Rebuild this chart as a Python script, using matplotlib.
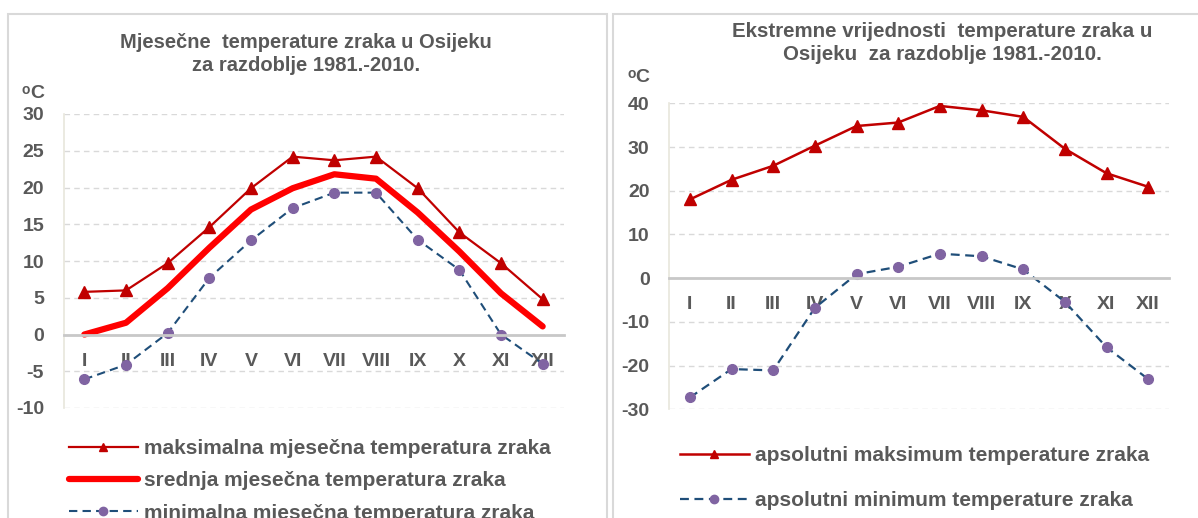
import matplotlib
matplotlib.use("Agg")
import matplotlib.pyplot as plt
from matplotlib.patches import Rectangle

plt.rcParams['font.family'] = ['Liberation Sans', 'DejaVu Sans']
plt.rcParams['axes.unicode_minus'] = False

months = ["I", "II", "III", "IV", "V", "VI", "VII", "VIII", "IX", "X", "XI", "XII"]

# monthly values, Osijek 1981-2010
max_monthly = [5.8, 6.0, 9.7, 14.6, 19.9, 24.2, 23.7, 24.2, 19.9, 13.9, 9.7, 4.8]
mean_monthly = [0.0, 1.6, 6.3, 11.8, 17.0, 19.9, 21.8, 21.2, 16.6, 11.3, 5.6, 1.1]
min_monthly = [-6.1, -4.1, 0.2, 7.7, 12.8, 17.2, 19.3, 19.3, 12.9, 8.8, 0.0, -4.0]

# absolute extremes
abs_max = [18.0, 22.5, 25.7, 30.3, 34.8, 35.6, 39.4, 38.4, 36.9, 29.6, 24.0, 20.9]
abs_min = [-27.3, -20.8, -21.1, -6.8, 0.9, 2.6, 5.6, 5.0, 2.0, -5.4, -15.8, -23.1]

GREY = "#595959"
DARKRED = "#c00000"
RED = "#ff0000"
BLUE = "#1f4e79"
PURPLE = "#8064a2"

W, H = 1198, 518
fig = plt.figure(figsize=(W / 100, H / 100), dpi=100)


def px(x, y):
    # pixel position (from top-left) -> figure fraction
    return x / W, 1 - y / H


# panel frames
for x0, x1 in [(8, 607), (613, 1210)]:
    fig.patches.append(Rectangle((x0 / W, -0.05), (x1 - x0) / W, 1 - 14 / H + 0.05,
                                 transform=fig.transFigure, fill=False,
                                 edgecolor="#d9d9d9", linewidth=1.5))


def style_axes(ax, ylim, step):
    ax.set_xlim(-0.5, len(months) - 0.5)
    ax.set_ylim(*ylim)
    ax.set_yticks(range(ylim[0], ylim[1] + 1, step))
    ax.set_xticks(range(len(months)))
    ax.set_xticklabels(months)
    for spine in ["top", "right"]:
        ax.spines[spine].set_visible(False)
    ax.spines["left"].set_color("#e8e6dc")
    ax.spines["left"].set_linewidth(1.2)
    ax.spines["bottom"].set_position(("data", 0))
    ax.spines["bottom"].set_color("#c8c8c8")
    ax.spines["bottom"].set_linewidth(2)
    ax.tick_params(axis="both", length=0, labelcolor=GREY, labelsize=14)
    ax.tick_params(axis="x", pad=13)
    ax.tick_params(axis="y", pad=14)
    for lab in ax.get_xticklabels() + ax.get_yticklabels():
        lab.set_fontweight("bold")
    ax.grid(axis="y", color="#d9d9d9", linestyle=(0, (4, 3)), linewidth=1)
    ax.set_axisbelow(True)
    ax.patch.set_alpha(0)


def degree_label(x, y):
    fig.text(*px(x, y - 4), "o", ha="left", va="center", fontsize=10,
             fontweight="bold", color=GREY)
    fig.text(*px(x + 8, y), "C", ha="left", va="center", fontsize=14,
             fontweight="bold", color=GREY)


def style_legend(leg):
    for t in leg.get_texts():
        t.set_color(GREY)
        t.set_fontweight("bold")
    for h in leg.legend_handles:
        h.set_markersize(6)


x = range(len(months))

# left panel: monthly temperatures
l, b = px(63.5, 408)
ax1 = fig.add_axes([l, b, 500 / W, 294 / H])
style_axes(ax1, (-10, 30), 5)
ax1.plot(x, max_monthly, color=DARKRED, linewidth=1.6, marker="^", markersize=9,
         label="maksimalna mjesečna temperatura zraka")
ax1.plot(x, mean_monthly, color=RED, linewidth=4.5, solid_capstyle="round",
         label="srednja mjesečna temperatura zraka")
ax1.plot(x, min_monthly, color=BLUE, linewidth=1.5, linestyle=(0, (4, 2.5)),
         marker="o", markersize=7, markerfacecolor=PURPLE, markeredgecolor=PURPLE,
         label="minimalna mjesečna temperatura zraka")

fig.text(*px(306, 54), "Mjesečne  temperature zraka u Osijeku\nza razdoblje 1981.-2010.",
         ha="center", va="center", fontsize=14.5, fontweight="bold", color=GREY,
         linespacing=1.3)
degree_label(22, 94)

leg1 = ax1.legend(loc="upper left", bbox_to_anchor=px(69, 439),
                  bbox_transform=fig.transFigure, frameon=False, fontsize=15,
                  handlelength=3.3, handletextpad=0.3, labelspacing=0.64,
                  numpoints=1, borderaxespad=0, borderpad=0)
style_legend(leg1)

# right panel: absolute extremes
l, b = px(669, 409.3)
ax2 = fig.add_axes([l, b, 500 / W, 306 / H])
style_axes(ax2, (-30, 40), 10)
ax2.plot(x, abs_max, color=DARKRED, linewidth=1.8, marker="^", markersize=9,
         label="apsolutni maksimum temperature zraka")
ax2.plot(x, abs_min, color=BLUE, linewidth=1.6, linestyle=(0, (4, 2.5)),
         marker="o", markersize=7, markerfacecolor=PURPLE, markeredgecolor=PURPLE,
         label="apsolutni minimum temperature zraka")

fig.text(*px(942, 43), "Ekstremne vrijednosti  temperature zraka u\nOsijeku  za razdoblje 1981.-2010.",
         ha="center", va="center", fontsize=14.8, fontweight="bold", color=GREY,
         linespacing=1.3)
degree_label(627, 78)

leg2 = ax2.legend(loc="upper left", bbox_to_anchor=px(680, 446),
                  bbox_transform=fig.transFigure, frameon=False, fontsize=15,
                  handlelength=3.3, handletextpad=0.3, labelspacing=1.24,
                  numpoints=1, borderaxespad=0, borderpad=0)
style_legend(leg2)

fig.savefig("out.png", dpi=100, facecolor="white")
